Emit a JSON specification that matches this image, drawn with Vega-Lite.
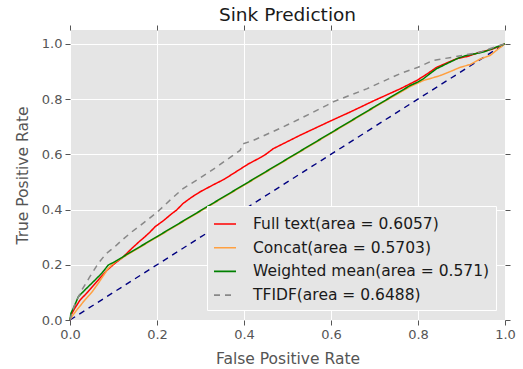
{
  "$schema": "https://vega.github.io/schema/vega-lite/v6.json",
  "width": 435,
  "height": 290,
  "autosize": {"type": "none"},
  "padding": {"left": 70, "top": 30, "right": 18, "bottom": 49},
  "background": "white",
  "title": {"text": "Sink Prediction", "fontSize": 18.5, "fontWeight": "normal", "color": "#1a1a1a", "font": "DejaVu Sans", "offset": 0},
  "config": {
    "view": {"fill": "#E5E5E5", "stroke": null},
    "font": "DejaVu Sans",
    "axis": {
      "domain": false,
      "grid": false,
      "tickColor": "#555555",
      "tickSize": 5,
      "labelColor": "#555555",
      "labelFontSize": 13,
      "labelFlush": false,
      "labelOverlap": false,
      "titleColor": "#555555",
      "titleFontSize": 15.5,
      "titleFontWeight": "normal"
    }
  },
  "resolve": {"axis": {"x": "independent", "y": "independent"}},
  "layer": [
    {
      "data": {"values": [{"fpr": 0, "tpr": 0}, {"fpr": 1, "tpr": 1}]},
      "mark": {"type": "line", "color": "#000080", "strokeWidth": 1.4, "strokeDash": [6, 5]},
      "encoding": {
        "x": {"field": "fpr", "type": "quantitative", "scale": {"domain": [0, 1], "nice": false, "zero": false},
              "axis": {"orient": "top", "labels": false, "title": null, "values": [0, 0.2, 0.4, 0.6, 0.8, 1]}},
        "y": {"field": "tpr", "type": "quantitative", "scale": {"domain": [0, 1.05], "nice": false, "zero": false},
              "axis": {"orient": "right", "labels": false, "title": null, "values": [0, 0.2, 0.4, 0.6, 0.8, 1]}}
      }
    },
    {
      "data": {"values": [
        {"series": "Full text(area = 0.6057)", "fpr": 0, "tpr": 0},
        {"series": "Full text(area = 0.6057)", "fpr": 0.003, "tpr": 0.02},
        {"series": "Full text(area = 0.6057)", "fpr": 0.01, "tpr": 0.04},
        {"series": "Full text(area = 0.6057)", "fpr": 0.023, "tpr": 0.072},
        {"series": "Full text(area = 0.6057)", "fpr": 0.04, "tpr": 0.1},
        {"series": "Full text(area = 0.6057)", "fpr": 0.065, "tpr": 0.145},
        {"series": "Full text(area = 0.6057)", "fpr": 0.085, "tpr": 0.18},
        {"series": "Full text(area = 0.6057)", "fpr": 0.103, "tpr": 0.205},
        {"series": "Full text(area = 0.6057)", "fpr": 0.12, "tpr": 0.225},
        {"series": "Full text(area = 0.6057)", "fpr": 0.142, "tpr": 0.259},
        {"series": "Full text(area = 0.6057)", "fpr": 0.16, "tpr": 0.285},
        {"series": "Full text(area = 0.6057)", "fpr": 0.172, "tpr": 0.301},
        {"series": "Full text(area = 0.6057)", "fpr": 0.185, "tpr": 0.32},
        {"series": "Full text(area = 0.6057)", "fpr": 0.195, "tpr": 0.337},
        {"series": "Full text(area = 0.6057)", "fpr": 0.215, "tpr": 0.36},
        {"series": "Full text(area = 0.6057)", "fpr": 0.234, "tpr": 0.385},
        {"series": "Full text(area = 0.6057)", "fpr": 0.245, "tpr": 0.398},
        {"series": "Full text(area = 0.6057)", "fpr": 0.26, "tpr": 0.422},
        {"series": "Full text(area = 0.6057)", "fpr": 0.28, "tpr": 0.445},
        {"series": "Full text(area = 0.6057)", "fpr": 0.299, "tpr": 0.464},
        {"series": "Full text(area = 0.6057)", "fpr": 0.33, "tpr": 0.49},
        {"series": "Full text(area = 0.6057)", "fpr": 0.355, "tpr": 0.51},
        {"series": "Full text(area = 0.6057)", "fpr": 0.375, "tpr": 0.53},
        {"series": "Full text(area = 0.6057)", "fpr": 0.41, "tpr": 0.565},
        {"series": "Full text(area = 0.6057)", "fpr": 0.44, "tpr": 0.59},
        {"series": "Full text(area = 0.6057)", "fpr": 0.452, "tpr": 0.602},
        {"series": "Full text(area = 0.6057)", "fpr": 0.467, "tpr": 0.62},
        {"series": "Full text(area = 0.6057)", "fpr": 0.529, "tpr": 0.669},
        {"series": "Full text(area = 0.6057)", "fpr": 0.598, "tpr": 0.72},
        {"series": "Full text(area = 0.6057)", "fpr": 0.644, "tpr": 0.753},
        {"series": "Full text(area = 0.6057)", "fpr": 0.7, "tpr": 0.795},
        {"series": "Full text(area = 0.6057)", "fpr": 0.759, "tpr": 0.837},
        {"series": "Full text(area = 0.6057)", "fpr": 0.797, "tpr": 0.867},
        {"series": "Full text(area = 0.6057)", "fpr": 0.82, "tpr": 0.89},
        {"series": "Full text(area = 0.6057)", "fpr": 0.843, "tpr": 0.915},
        {"series": "Full text(area = 0.6057)", "fpr": 0.865, "tpr": 0.93},
        {"series": "Full text(area = 0.6057)", "fpr": 0.889, "tpr": 0.946},
        {"series": "Full text(area = 0.6057)", "fpr": 0.915, "tpr": 0.955},
        {"series": "Full text(area = 0.6057)", "fpr": 0.943, "tpr": 0.97},
        {"series": "Full text(area = 0.6057)", "fpr": 0.97, "tpr": 0.98},
        {"series": "Full text(area = 0.6057)", "fpr": 1, "tpr": 1},

        {"series": "Concat(area = 0.5703)", "fpr": 0, "tpr": 0},
        {"series": "Concat(area = 0.5703)", "fpr": 0.004, "tpr": 0.012},
        {"series": "Concat(area = 0.5703)", "fpr": 0.015, "tpr": 0.035},
        {"series": "Concat(area = 0.5703)", "fpr": 0.034, "tpr": 0.072},
        {"series": "Concat(area = 0.5703)", "fpr": 0.05, "tpr": 0.1},
        {"series": "Concat(area = 0.5703)", "fpr": 0.065, "tpr": 0.133},
        {"series": "Concat(area = 0.5703)", "fpr": 0.088, "tpr": 0.187},
        {"series": "Concat(area = 0.5703)", "fpr": 0.103, "tpr": 0.209},
        {"series": "Concat(area = 0.5703)", "fpr": 0.142, "tpr": 0.246},
        {"series": "Concat(area = 0.5703)", "fpr": 0.2, "tpr": 0.3},
        {"series": "Concat(area = 0.5703)", "fpr": 0.3, "tpr": 0.394},
        {"series": "Concat(area = 0.5703)", "fpr": 0.4, "tpr": 0.488},
        {"series": "Concat(area = 0.5703)", "fpr": 0.5, "tpr": 0.582},
        {"series": "Concat(area = 0.5703)", "fpr": 0.6, "tpr": 0.676},
        {"series": "Concat(area = 0.5703)", "fpr": 0.7, "tpr": 0.77},
        {"series": "Concat(area = 0.5703)", "fpr": 0.782, "tpr": 0.845},
        {"series": "Concat(area = 0.5703)", "fpr": 0.812, "tpr": 0.867},
        {"series": "Concat(area = 0.5703)", "fpr": 0.83, "tpr": 0.875},
        {"series": "Concat(area = 0.5703)", "fpr": 0.851, "tpr": 0.885},
        {"series": "Concat(area = 0.5703)", "fpr": 0.875, "tpr": 0.9},
        {"series": "Concat(area = 0.5703)", "fpr": 0.897, "tpr": 0.915},
        {"series": "Concat(area = 0.5703)", "fpr": 0.92, "tpr": 0.925},
        {"series": "Concat(area = 0.5703)", "fpr": 0.943, "tpr": 0.945},
        {"series": "Concat(area = 0.5703)", "fpr": 0.966, "tpr": 0.958},
        {"series": "Concat(area = 0.5703)", "fpr": 0.98, "tpr": 0.976},
        {"series": "Concat(area = 0.5703)", "fpr": 1, "tpr": 1},

        {"series": "Weighted mean(area = 0.571)", "fpr": 0, "tpr": 0},
        {"series": "Weighted mean(area = 0.571)", "fpr": 0.002, "tpr": 0.024},
        {"series": "Weighted mean(area = 0.571)", "fpr": 0.01, "tpr": 0.05},
        {"series": "Weighted mean(area = 0.571)", "fpr": 0.019, "tpr": 0.084},
        {"series": "Weighted mean(area = 0.571)", "fpr": 0.035, "tpr": 0.11},
        {"series": "Weighted mean(area = 0.571)", "fpr": 0.05, "tpr": 0.133},
        {"series": "Weighted mean(area = 0.571)", "fpr": 0.073, "tpr": 0.169},
        {"series": "Weighted mean(area = 0.571)", "fpr": 0.088, "tpr": 0.199},
        {"series": "Weighted mean(area = 0.571)", "fpr": 0.103, "tpr": 0.211},
        {"series": "Weighted mean(area = 0.571)", "fpr": 0.142, "tpr": 0.248},
        {"series": "Weighted mean(area = 0.571)", "fpr": 0.2, "tpr": 0.302},
        {"series": "Weighted mean(area = 0.571)", "fpr": 0.3, "tpr": 0.396},
        {"series": "Weighted mean(area = 0.571)", "fpr": 0.4, "tpr": 0.49},
        {"series": "Weighted mean(area = 0.571)", "fpr": 0.5, "tpr": 0.584},
        {"series": "Weighted mean(area = 0.571)", "fpr": 0.6, "tpr": 0.678},
        {"series": "Weighted mean(area = 0.571)", "fpr": 0.7, "tpr": 0.772},
        {"series": "Weighted mean(area = 0.571)", "fpr": 0.782, "tpr": 0.849},
        {"series": "Weighted mean(area = 0.571)", "fpr": 0.8, "tpr": 0.862},
        {"series": "Weighted mean(area = 0.571)", "fpr": 0.812, "tpr": 0.873},
        {"series": "Weighted mean(area = 0.571)", "fpr": 0.83, "tpr": 0.895},
        {"series": "Weighted mean(area = 0.571)", "fpr": 0.843, "tpr": 0.91},
        {"series": "Weighted mean(area = 0.571)", "fpr": 0.874, "tpr": 0.934},
        {"series": "Weighted mean(area = 0.571)", "fpr": 0.895, "tpr": 0.95},
        {"series": "Weighted mean(area = 0.571)", "fpr": 0.912, "tpr": 0.958},
        {"series": "Weighted mean(area = 0.571)", "fpr": 0.95, "tpr": 0.97},
        {"series": "Weighted mean(area = 0.571)", "fpr": 0.975, "tpr": 0.985},
        {"series": "Weighted mean(area = 0.571)", "fpr": 1, "tpr": 1},

        {"series": "TFIDF(area = 0.6488)", "fpr": 0, "tpr": 0},
        {"series": "TFIDF(area = 0.6488)", "fpr": 0.004, "tpr": 0.024},
        {"series": "TFIDF(area = 0.6488)", "fpr": 0.012, "tpr": 0.06},
        {"series": "TFIDF(area = 0.6488)", "fpr": 0.027, "tpr": 0.108},
        {"series": "TFIDF(area = 0.6488)", "fpr": 0.045, "tpr": 0.155},
        {"series": "TFIDF(area = 0.6488)", "fpr": 0.065, "tpr": 0.205},
        {"series": "TFIDF(area = 0.6488)", "fpr": 0.083, "tpr": 0.24},
        {"series": "TFIDF(area = 0.6488)", "fpr": 0.103, "tpr": 0.265},
        {"series": "TFIDF(area = 0.6488)", "fpr": 0.12, "tpr": 0.29},
        {"series": "TFIDF(area = 0.6488)", "fpr": 0.142, "tpr": 0.319},
        {"series": "TFIDF(area = 0.6488)", "fpr": 0.16, "tpr": 0.34},
        {"series": "TFIDF(area = 0.6488)", "fpr": 0.18, "tpr": 0.365},
        {"series": "TFIDF(area = 0.6488)", "fpr": 0.2, "tpr": 0.39},
        {"series": "TFIDF(area = 0.6488)", "fpr": 0.23, "tpr": 0.434},
        {"series": "TFIDF(area = 0.6488)", "fpr": 0.26, "tpr": 0.476},
        {"series": "TFIDF(area = 0.6488)", "fpr": 0.3, "tpr": 0.515},
        {"series": "TFIDF(area = 0.6488)", "fpr": 0.337, "tpr": 0.554},
        {"series": "TFIDF(area = 0.6488)", "fpr": 0.36, "tpr": 0.58},
        {"series": "TFIDF(area = 0.6488)", "fpr": 0.391, "tpr": 0.614},
        {"series": "TFIDF(area = 0.6488)", "fpr": 0.398, "tpr": 0.638},
        {"series": "TFIDF(area = 0.6488)", "fpr": 0.421, "tpr": 0.65},
        {"series": "TFIDF(area = 0.6488)", "fpr": 0.49, "tpr": 0.699},
        {"series": "TFIDF(area = 0.6488)", "fpr": 0.529, "tpr": 0.729},
        {"series": "TFIDF(area = 0.6488)", "fpr": 0.59, "tpr": 0.777},
        {"series": "TFIDF(area = 0.6488)", "fpr": 0.605, "tpr": 0.79},
        {"series": "TFIDF(area = 0.6488)", "fpr": 0.682, "tpr": 0.837},
        {"series": "TFIDF(area = 0.6488)", "fpr": 0.759, "tpr": 0.892},
        {"series": "TFIDF(area = 0.6488)", "fpr": 0.8, "tpr": 0.915},
        {"series": "TFIDF(area = 0.6488)", "fpr": 0.835, "tpr": 0.94},
        {"series": "TFIDF(area = 0.6488)", "fpr": 0.881, "tpr": 0.952},
        {"series": "TFIDF(area = 0.6488)", "fpr": 0.943, "tpr": 0.97},
        {"series": "TFIDF(area = 0.6488)", "fpr": 0.97, "tpr": 0.985},
        {"series": "TFIDF(area = 0.6488)", "fpr": 1, "tpr": 1}
      ]},
      "mark": {"type": "line", "strokeWidth": 1.5},
      "encoding": {
        "x": {"field": "fpr", "type": "quantitative", "scale": {"domain": [0, 1], "nice": false, "zero": false},
              "axis": {"orient": "bottom", "title": "False Positive Rate", "grid": true, "gridColor": "#FFFFFF", "gridWidth": 1,
                       "values": [0, 0.2, 0.4, 0.6, 0.8, 1], "format": ".1f", "labelPadding": 3, "titlePadding": 10}},
        "y": {"field": "tpr", "type": "quantitative", "scale": {"domain": [0, 1.05], "nice": false, "zero": false},
              "axis": {"orient": "left", "title": "True Positive Rate", "grid": true, "gridColor": "#FFFFFF", "gridWidth": 1,
                       "values": [0, 0.2, 0.4, 0.6, 0.8, 1], "format": ".1f", "labelPadding": 3, "titlePadding": 11}},
        "color": {"field": "series", "type": "nominal",
                  "scale": {"domain": ["Full text(area = 0.6057)", "Concat(area = 0.5703)", "Weighted mean(area = 0.571)", "TFIDF(area = 0.6488)"],
                            "range": ["#FF0000", "#FFA040", "#008000", "#888888"]},
                  "legend": {"title": null, "orient": "none", "legendX": 137, "legendY": 176,
                             "fillColor": "#E5E5E5", "strokeColor": "#FFFFFF", "padding": 6,
                             "labelFontSize": 15.5, "labelColor": "#1a1a1a", "labelLimit": 400, "symbolType": "stroke",
                             "symbolSize": 484, "symbolStrokeWidth": 1.6, "labelOffset": 16, "rowPadding": 2.7}},
        "strokeDash": {"field": "series", "type": "nominal",
                       "scale": {"domain": ["Full text(area = 0.6057)", "Concat(area = 0.5703)", "Weighted mean(area = 0.571)", "TFIDF(area = 0.6488)"],
                                 "range": [[1, 0], [1, 0], [1, 0], [6, 5]]},
                       "legend": {"title": null, "orient": "none", "legendX": 137, "legendY": 176,
                                  "fillColor": "#E5E5E5", "strokeColor": "#FFFFFF", "padding": 6,
                                  "labelFontSize": 15.5, "labelColor": "#1a1a1a", "labelLimit": 400, "symbolType": "stroke",
                                  "symbolSize": 484, "symbolStrokeWidth": 1.6, "labelOffset": 16, "rowPadding": 2.7}}
      }
    }
  ]
}
